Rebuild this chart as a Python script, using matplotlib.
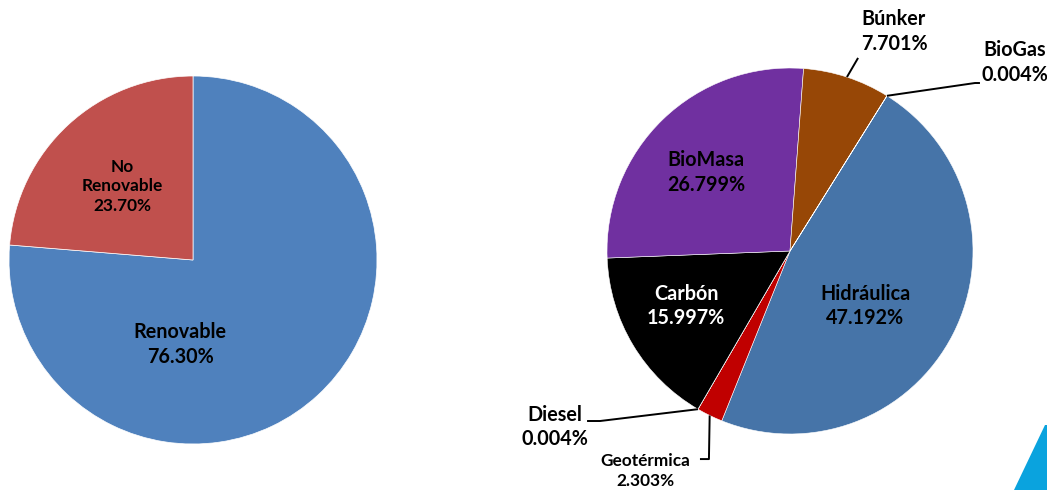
import numpy as np
import matplotlib.pyplot as plt
from matplotlib.patches import Polygon

plt.rcParams['font.family'] = ['Lato', 'DejaVu Sans']
plt.rcParams['font.weight'] = 'bold'

# left pie: renewable vs non renewable
mix_labels = ["Renovable", "No\nRenovable"]
mix_values = [76.30, 23.70]
mix_colors = ["#4F81BD", "#C0504D"]

# right pie: generation by source (clockwise from Hidráulica)
src_labels = ["Hidráulica", "Geotérmica", "Diesel", "Carbón", "BioMasa", "Búnker", "BioGas"]
src_values = [47.192, 2.303, 0.004, 15.997, 26.799, 7.701, 0.004]
src_colors = ["#4674A8", "#C00000", "#C00000", "#000000", "#7030A0", "#974706", "#4674A8"]

W, H = 1047, 490
fig = plt.figure(figsize=(W / 100, H / 100), dpi=100)

BIG, SMALL = 14.2, 12.4


def pie_axes(cx, cy, r):
    ax = fig.add_axes([(cx - r) / W, (H - cy - r) / H, 2 * r / W, 2 * r / H])
    ax.axis('off')
    return ax


def fix_limits(ax):
    # pie() resets limits to +-1.25, put them back so the disc fills the axes
    ax.set_xlim(-1, 1)
    ax.set_ylim(-1, 1)
    ax.set_aspect('equal')


def mid_angle(values, start, i):
    v = np.array(values) / sum(values) * 360
    return np.deg2rad(start - v[:i].sum() - v[i] / 2)


# ---- left pie
ax1 = pie_axes(193, 260, 184)
ax1.pie(mix_values, colors=mix_colors, startangle=90, counterclock=False, radius=1,
        wedgeprops=dict(edgecolor='white', linewidth=0.5))
fix_limits(ax1)
ax1.text(-0.07, -0.46, f"{mix_labels[0]}\n{mix_values[0]:.2f}%", ha='center', va='center',
         fontsize=BIG, color='black', linespacing=1.3)
ax1.text(-0.386, 0.40, f"{mix_labels[1]}\n{mix_values[1]:.2f}%", ha='center', va='center',
         fontsize=SMALL, color='black', linespacing=1.3)

# ---- right pie
start2 = 58
ax2 = pie_axes(790, 251, 183)
ax2.pie(src_values, colors=src_colors, startangle=start2, counterclock=False, radius=1,
        wedgeprops=dict(edgecolor='white', linewidth=0.4))
fix_limits(ax2)


def lbl(i, x, y, size=BIG, color='black'):
    ax2.text(x, y, f"{src_labels[i]}\n{src_values[i]:.3f}%", ha='center', va='center',
             fontsize=size, color=color, linespacing=1.3, clip_on=False)


def leader(i, pts):
    a = mid_angle(src_values, start2, i)
    xs = [np.cos(a)] + [p[0] for p in pts]
    ys = [np.sin(a)] + [p[1] for p in pts]
    ax2.plot(xs, ys, color='black', lw=1.4, clip_on=False, solid_capstyle='butt')


lbl(0, 0.41, -0.30)
lbl(3, -0.568, -0.30, color='white')
lbl(4, -0.459, 0.43)
lbl(5, 0.568, 1.20)
lbl(6, 1.23, 1.03)
lbl(2, -1.284, -0.962)
lbl(1, -0.792, -1.20, size=SMALL)

leader(5, [(0.372, 1.055)])
leader(6, [(1.011, 0.918), (1.038, 0.918)])
leader(2, [(-1.038, -0.929), (-1.109, -0.929)])
leader(1, [(-0.443, -1.137), (-0.492, -1.137)])

# corner decoration
fig.add_artist(Polygon([(1014 / W, 0), (1045 / W, 65 / H), (1, 65 / H), (1, 0)],
                       closed=True, transform=fig.transFigure, color='#0AA3DE', lw=0))

fig.savefig("out.png", dpi=100)
